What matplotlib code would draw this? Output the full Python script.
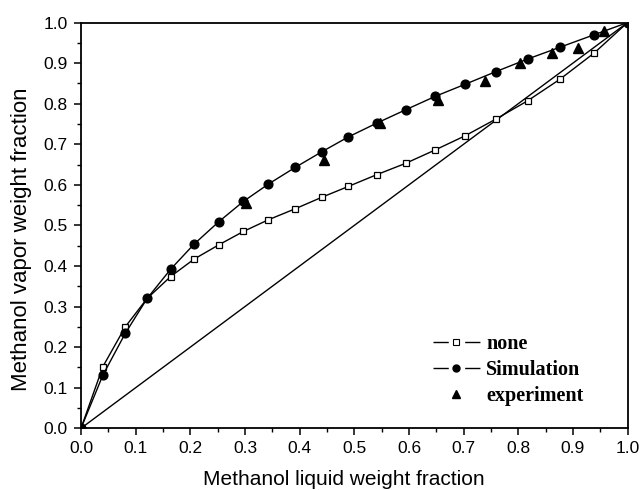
import matplotlib
matplotlib.use("Agg")
import matplotlib.pyplot as plt
from matplotlib.lines import Line2D
from matplotlib.legend_handler import HandlerTuple
from matplotlib.ticker import MultipleLocator

x_liquid = [0.0, 0.040, 0.081, 0.121, 0.164, 0.207, 0.252, 0.297, 0.343, 0.392, 0.440,
            0.489, 0.541, 0.594, 0.648, 0.703, 0.759, 0.817, 0.876, 0.939, 1.0]
y_none = [0.0, 0.152, 0.250, 0.320, 0.374, 0.417, 0.452, 0.485, 0.514, 0.541, 0.569,
          0.596, 0.625, 0.653, 0.686, 0.721, 0.762, 0.807, 0.860, 0.925, 1.0]
y_sim = [0.0, 0.131, 0.234, 0.320, 0.392, 0.454, 0.509, 0.559, 0.602, 0.643, 0.681,
         0.718, 0.752, 0.785, 0.818, 0.848, 0.879, 0.910, 0.939, 0.970, 1.0]
x_exp = [0.301, 0.445, 0.547, 0.654, 0.740, 0.803, 0.861, 0.910, 0.957]
y_exp = [0.555, 0.660, 0.752, 0.809, 0.856, 0.900, 0.926, 0.937, 0.978]
diag = [0.0, 1.0]

plt.rcParams['font.family'] = ['Liberation Sans', 'DejaVu Sans']

fig = plt.figure(figsize=(6.43, 4.9), dpi=100)
ax = fig.add_axes([0.126, 0.126, 0.85, 0.828])

ax.plot(diag, diag, color="black", lw=1.0)
ax.plot(x_liquid, y_none, color="black", lw=1.0, marker="s", ms=5,
        mfc="white", mec="black", mew=0.9)
ax.plot(x_liquid, y_sim, color="black", lw=1.0, marker="o", ms=6.3,
        mfc="black", mec="black")
ax.plot(x_exp, y_exp, ls="none", marker="^", ms=7, color="black")

ax.set_xlim(0, 1)
ax.set_ylim(0, 1)
ax.xaxis.set_major_locator(MultipleLocator(0.1))
ax.yaxis.set_major_locator(MultipleLocator(0.1))
ax.xaxis.set_minor_locator(MultipleLocator(0.05))
ax.yaxis.set_minor_locator(MultipleLocator(0.05))
ax.tick_params(which="major", direction="out", length=5, width=1.1, labelsize=12.5, pad=4.5)
ax.tick_params(which="minor", direction="out", length=3, width=1.0)
for s in ax.spines.values():
    s.set_linewidth(1.3)

ax.set_xlabel("Methanol liquid weight fraction", fontsize=15)
ax.set_ylabel("Methanol vapor weight fraction", fontsize=16)
ax.xaxis.set_label_coords(0.481, -0.103)
ax.yaxis.set_label_coords(-0.089, 0.467)

# legend: line - gap - marker - gap - line
dash = (0, (11, 11.8, 11, 100))
h_none = (Line2D([], [], color="black", lw=1.0, ls=dash),
          Line2D([], [], ls="none", marker="s", ms=4, mfc="white", mec="black", mew=0.8))
h_sim = (Line2D([], [], color="black", lw=1.0, ls=dash),
         Line2D([], [], ls="none", marker="o", ms=5, color="black"))
h_exp = Line2D([], [], ls="none", marker="^", ms=5.5, color="black")
ax.legend([h_none, h_sim, h_exp], ["none", "Simulation", "experiment"],
          handler_map={tuple: HandlerTuple(ndivide=1)},
          loc="upper left", bbox_to_anchor=(0.644, 0.232), frameon=False,
          borderpad=0, borderaxespad=0, handlelength=2.33, handletextpad=0.3,
          labelspacing=0.3,
          prop={"family": "Liberation Serif", "weight": "bold", "size": 14.5})

plt.savefig("out.png", dpi=100)
